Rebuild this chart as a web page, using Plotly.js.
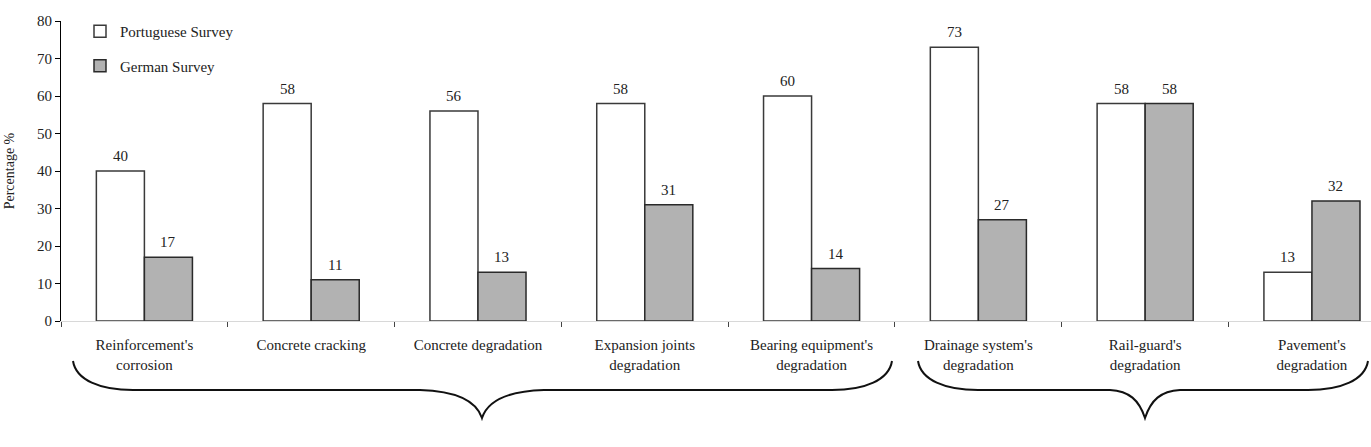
<!DOCTYPE html>
<html>
<head>
<meta charset="utf-8">
<script src="https://cdn.plot.ly/plotly-3.0.1.min.js"></script>
<style>html,body{margin:0;padding:0;background:#fff;}#chart{width:1371px;height:447px;}</style>
</head>
<body>
<div id="chart"></div>
<script>
const categories = ["Reinforcement's<br>corrosion", "Concrete cracking", "Concrete degradation", "Expansion joints<br>degradation", "Bearing equipment's<br>degradation", "Drainage system's<br>degradation", "Rail-guard's<br>degradation", "Pavement's<br>degradation"];
const portuguese = [40, 58, 56, 58, 60, 73, 58, 13];
const german = [17, 11, 13, 31, 14, 27, 58, 32];
const seriesNames = ["Portuguese Survey", "German Survey"];
const yTicks = [0, 10, 20, 30, 40, 50, 60, 70, 80];

const FONT = '"Liberation Serif", "Times New Roman", serif';
const W = 1371, H = 447, L = 61, T = 21, B = 126;
const plotW = W - L, plotH = H - T - B;
const px = x => (x - L) / plotW;
const py = y => (H - B - y) / plotH;

function brace(x0, xm, x1, yTop, yMid, yTip, endW, midW) {
  const P = (x, y) => px(x).toFixed(5) + ',' + py(y).toFixed(5);
  return 'M' + P(x0, yTop) +
    ' C' + P(x0 + 3, yMid - 10) + ' ' + P(x0 + endW * 0.45, yMid) + ' ' + P(x0 + endW, yMid) +
    ' L' + P(xm - midW, yMid) +
    ' C' + P(xm - midW * 0.45, yMid + 1) + ' ' + P(xm - 6, yMid + 10) + ' ' + P(xm, yTip) +
    ' C' + P(xm + 6, yMid + 10) + ' ' + P(xm + midW * 0.45, yMid + 1) + ' ' + P(xm + midW, yMid) +
    ' L' + P(x1 - endW, yMid) +
    ' C' + P(x1 - endW * 0.45, yMid) + ' ' + P(x1 - 3, yMid - 10) + ' ' + P(x1, yTop);
}

const traces = [
  {type: 'bar', name: seriesNames[0], x: categories, y: portuguese,
   marker: {color: '#ffffff', line: {color: '#3a3a3a', width: 1.5}}, legendgroup: 'a'},
  {type: 'bar', name: seriesNames[1], x: categories, y: german,
   marker: {color: '#b2b2b2', line: {color: '#2a2a2a', width: 1.5}}, legendgroup: 'b'}
];

const annotations = [];
categories.forEach((c, i) => {
  annotations.push({x: c, y: portuguese[i], text: String(portuguese[i]), showarrow: false,
    xshift: -24, yshift: 5, yanchor: 'bottom', font: {family: FONT, size: 15, color: '#222'}});
  annotations.push({x: c, y: german[i], text: String(german[i]), showarrow: false,
    xshift: 24, yshift: 5, yanchor: 'bottom', font: {family: FONT, size: 15, color: '#222'}});
});

const layout = {
  width: W, height: H,
  margin: {l: L, r: 0, t: T, b: B, pad: 0},
  paper_bgcolor: '#ffffff', plot_bgcolor: '#ffffff',
  barmode: 'group', bargap: 0.424, bargroupgap: 0,
  font: {family: FONT, size: 15, color: '#222'},
  showlegend: true,
  legend: {x: px(80), y: py(15), xanchor: 'left', yanchor: 'top', bgcolor: 'rgba(0,0,0,0)',
    font: {family: FONT, size: 15, color: '#222'}, tracegroupgap: 12, itemwidth: 30},
  xaxis: {type: 'category', range: [-0.5, 7.354], autorange: false, fixedrange: true,
    showline: true, linecolor: '#d8d8d8', linewidth: 1,
    ticks: 'outside', tickson: 'boundaries', ticklen: 5, tickcolor: '#444', tickwidth: 1,
    tickfont: {family: FONT, size: 15, color: '#222'}, ticklabelstandoff: 10,
    showgrid: false, zeroline: false},
  yaxis: {range: [0, 80], autorange: false, tickvals: yTicks, ticktext: yTicks.map(String),
    showline: true, linecolor: '#000', linewidth: 1, ticks: 'outside', ticklen: 5, tickcolor: '#000',
    tickfont: {family: FONT, size: 15, color: '#222'}, showgrid: false, zeroline: false,
    title: {text: 'Percentage %', font: {family: FONT, size: 14, color: '#222'}, standoff: 19}},
  annotations: annotations,
  shapes: [
    {type: 'path', xref: 'paper', yref: 'paper', path: brace(73, 482, 892, 361, 390, 418, 60, 62), line: {color: '#111', width: 2}},
    {type: 'path', xref: 'paper', yref: 'paper', path: brace(918, 1145, 1368, 361, 390, 418, 60, 35), line: {color: '#111', width: 2}}
  ]
};

Plotly.newPlot('chart', traces, layout, {displayModeBar: false, staticPlot: true});
</script>
</body>
</html>
